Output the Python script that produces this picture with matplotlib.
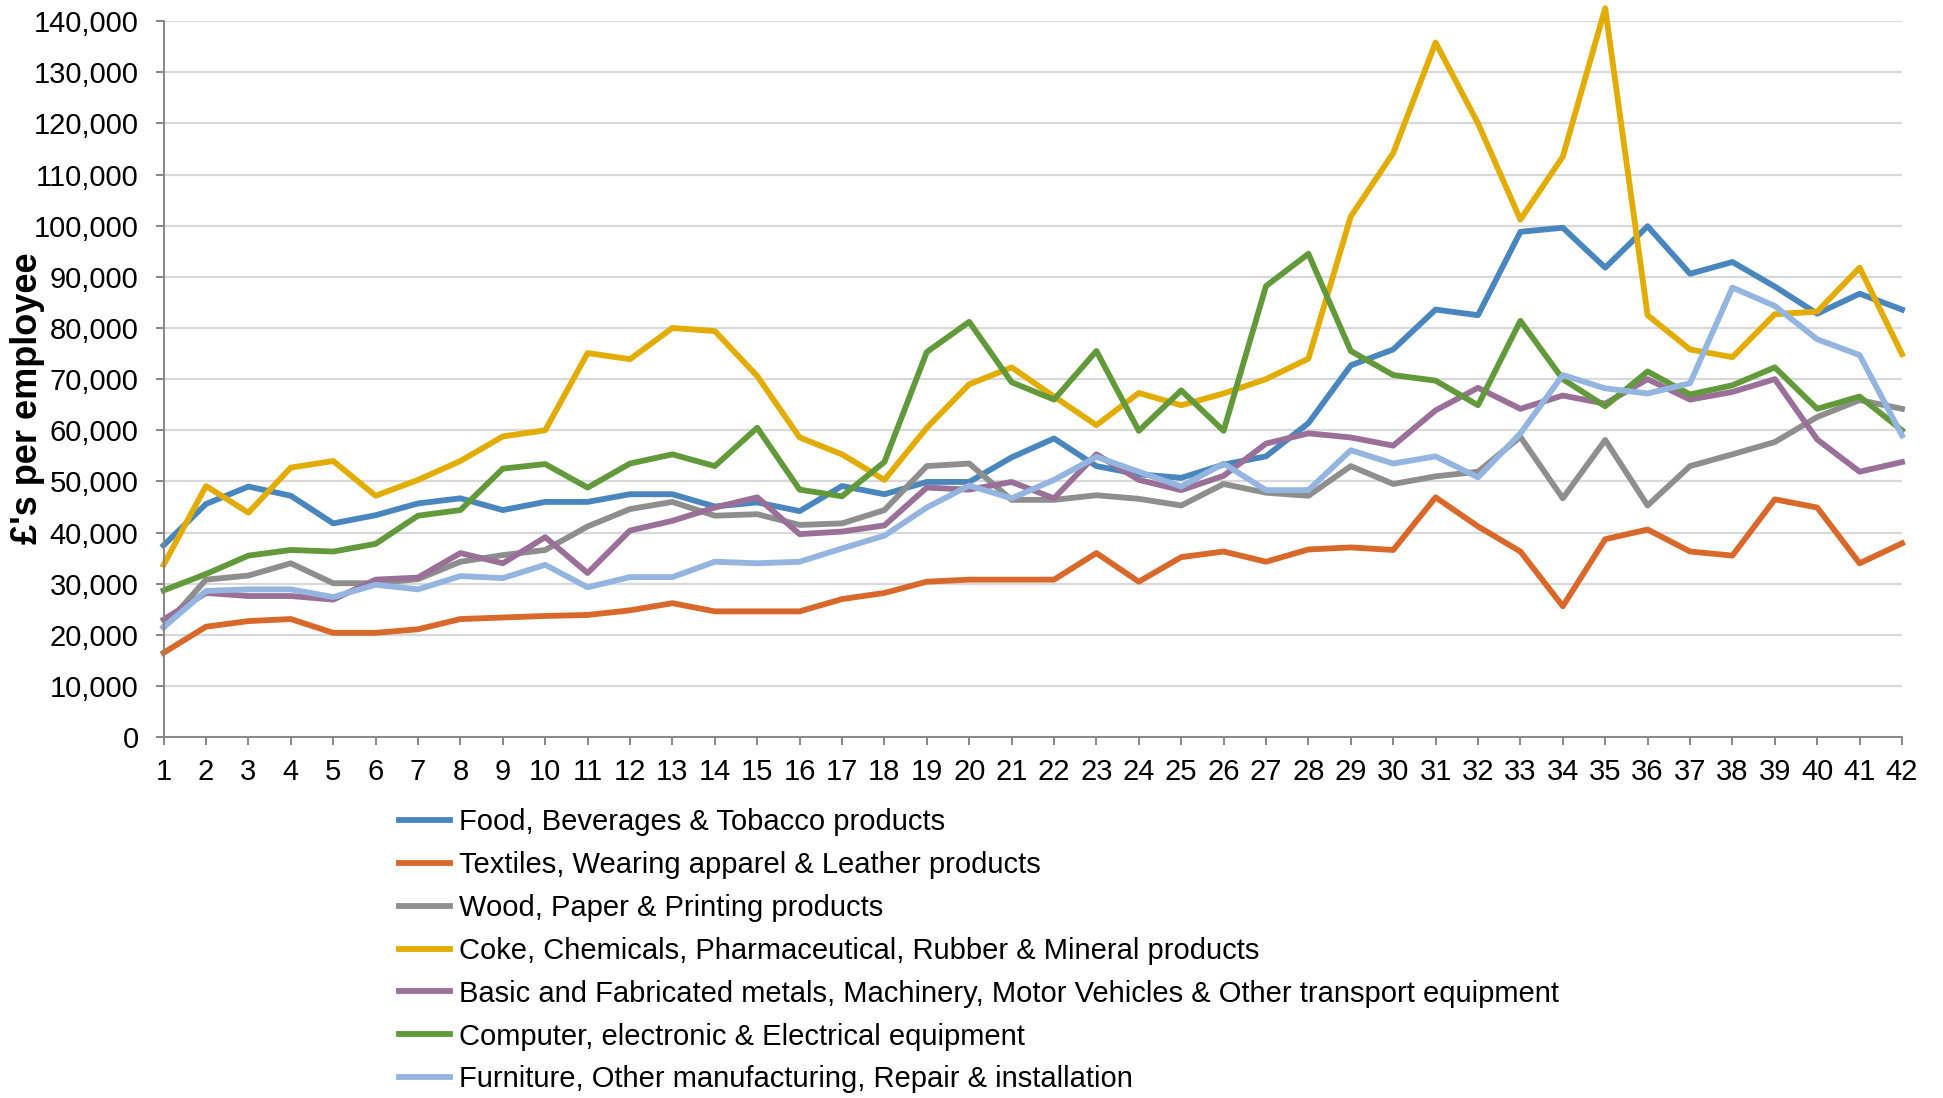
import matplotlib.pyplot as plt

plt.rcParams['font.family'] = ['Liberation Sans', 'DejaVu Sans']

periods = list(range(1, 43))

food = [37500, 45600, 49000, 47200, 41800, 43400, 45700, 46700, 44400, 46000,
        46000, 47500, 47500, 45100, 45900, 44200, 49100, 47500, 49900, 49900,
        54700, 58400, 53000, 51400, 50700, 53300, 54900, 61400, 72700, 75800,
        83600, 82500, 98800, 99600, 91800, 99900, 90600, 92900, 88100, 82800,
        86700, 83600]
textiles = [16500, 21600, 22700, 23100, 20400, 20400, 21100, 23100, 23400, 23700,
            23900, 24800, 26200, 24600, 24600, 24600, 27000, 28200, 30400, 30800,
            30800, 30800, 36000, 30400, 35200, 36300, 34300, 36700, 37100, 36600,
            46900, 41200, 36300, 25600, 38700, 40600, 36300, 35500, 46500, 44900,
            34000, 37900]
wood = [21500, 30800, 31600, 34000, 30100, 30100, 30900, 34300, 35600, 36600,
        41200, 44600, 46000, 43300, 43600, 41500, 41800, 44400, 53000, 53500,
        46400, 46400, 47300, 46600, 45300, 49500, 47800, 47200, 53000, 49500,
        51000, 51900, 58700, 46700, 58100, 45300, 53000, 55300, 57700, 62600,
        65900, 64200]
coke = [33700, 49100, 43900, 52700, 54000, 47200, 50300, 54000, 58800, 60000,
        75100, 73900, 80000, 79400, 70600, 58600, 55300, 50300, 60500, 69000,
        72300, 66600, 61000, 67300, 64900, 67200, 70000, 74000, 101800, 114200,
        135800, 120000, 101200, 113500, 142500, 82500, 75800, 74300, 82700, 83200,
        91800, 74900]
metals = [23000, 28200, 27600, 27600, 26900, 30800, 31200, 36000, 34000, 39100,
          32100, 40400, 42300, 44900, 46900, 39700, 40200, 41400, 48800, 48400,
          49900, 46700, 55300, 50300, 48300, 51100, 57400, 59400, 58600, 57000,
          63900, 68300, 64200, 66800, 65200, 70000, 66000, 67500, 70000, 58200,
          51900, 53800]
computer = [28700, 31900, 35500, 36600, 36300, 37800, 43300, 44400, 52500, 53400,
            48800, 53500, 55300, 53000, 60500, 48400, 47100, 53800, 75300, 81200,
            69400, 66000, 75500, 59900, 67800, 59900, 88200, 94500, 75500, 70800,
            69700, 64900, 81400, 70000, 64700, 71500, 67000, 68800, 72300, 64200,
            66600, 60000]
furniture = [21500, 28600, 28900, 28900, 27400, 29800, 28900, 31500, 31100, 33700,
             29300, 31300, 31300, 34300, 34000, 34300, 36900, 39400, 44900, 49200,
             46700, 50300, 54800, 51900, 49000, 53500, 48300, 48300, 56100, 53500,
             54900, 50800, 59400, 70800, 68200, 67200, 69200, 87900, 84300, 77800,
             74700, 59000]

labels = [
    "Food, Beverages & Tobacco products",
    "Textiles, Wearing apparel & Leather products",
    "Wood, Paper & Printing products",
    "Coke, Chemicals, Pharmaceutical, Rubber & Mineral products",
    "Basic and Fabricated metals, Machinery, Motor Vehicles & Other transport equipment",
    "Computer, electronic & Electrical equipment",
    "Furniture, Other manufacturing, Repair & installation",
]
colors = ["#4A86BE", "#D8692A", "#8E8E8E", "#E2AC00", "#9A7098", "#629A3B", "#93B5DF"]
series = [food, textiles, wood, coke, metals, computer, furniture]

fig = plt.figure(figsize=(19.43, 10.98), dpi=100)
ax = fig.add_axes([0.0842, 0.3286, 0.8947, 0.6522])

for vals, col, lab in zip(series, colors, labels):
    ax.plot(periods, vals, color=col, lw=4.2, label=lab, clip_on=False)

ax.set_xlim(1, 42)
ax.set_ylim(0, 140000)
ax.set_xticks(periods)
ax.set_yticks(range(0, 140001, 10000))
ax.yaxis.set_major_formatter(plt.FuncFormatter(lambda v, p: f"{int(v):,}"))
ax.grid(axis='y', color='#D9D9D9', lw=1.6)
ax.set_axisbelow(True)
for s in ['top', 'right']:
    ax.spines[s].set_visible(False)
for s in ['left', 'bottom']:
    ax.spines[s].set_color('#868686')
    ax.spines[s].set_linewidth(1.4)
ax.tick_params(axis='both', colors='#868686', labelcolor='black', labelsize=21,
               length=6, width=1.4, direction='out')
ax.tick_params(axis='y', pad=12)
ax.tick_params(axis='x', pad=9)
ax.set_ylabel("£'s per employee", fontsize=26, fontweight='bold')
ax.yaxis.set_label_coords(-0.068, 0.474)

fig.legend(loc='upper left', bbox_to_anchor=(0.2055, 0.264), frameon=False,
           fontsize=21, handlelength=1.75, handletextpad=0.3, labelspacing=0.51,
           borderpad=0, borderaxespad=0)

fig.savefig('out.png', dpi=100)
